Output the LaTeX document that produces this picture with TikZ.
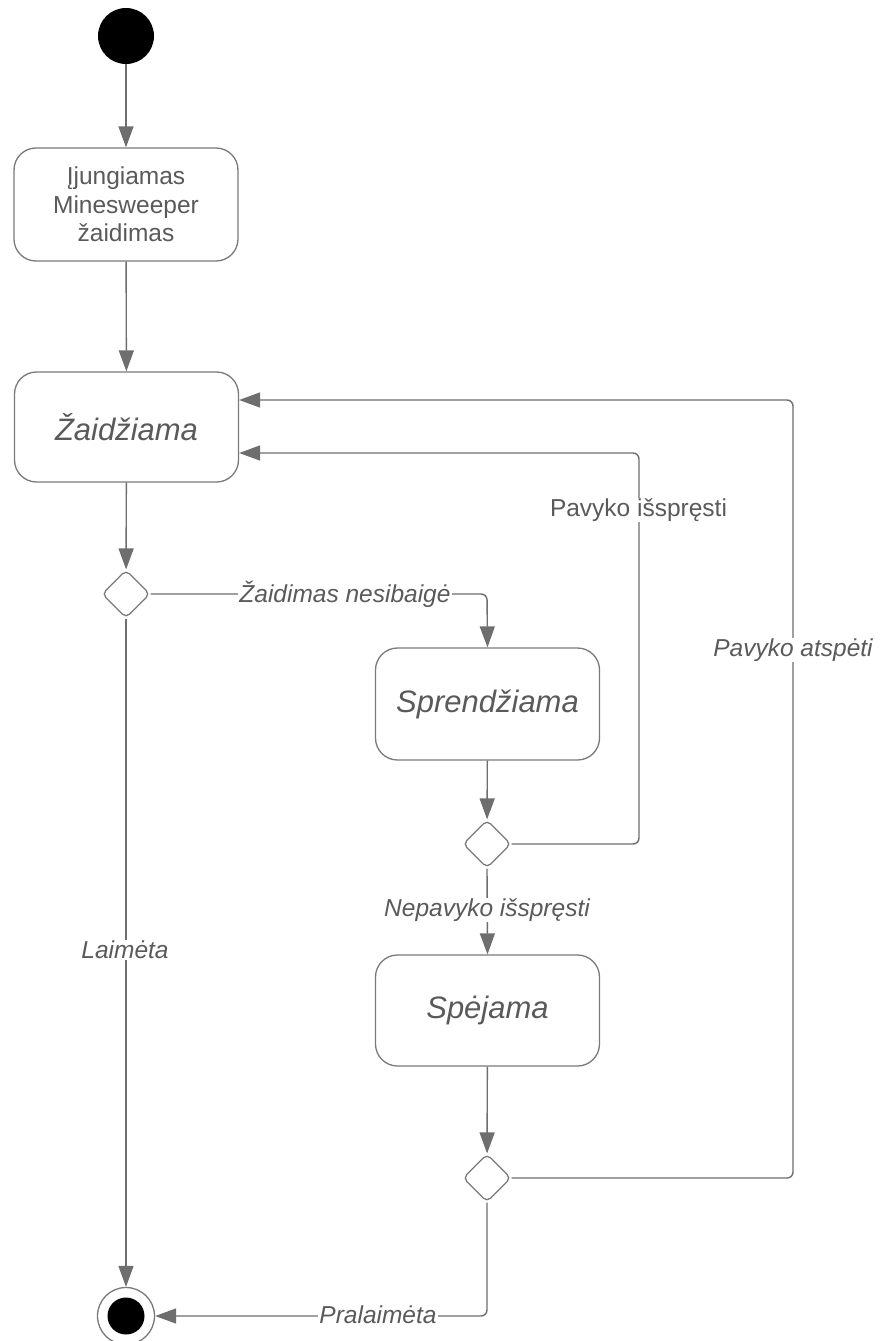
\documentclass[tikz,border=0pt]{standalone}
\usepackage{fontspec}
\setmainfont{Liberation Sans}
\usetikzlibrary{shapes.geometric,arrows.meta}
\definecolor{linegray}{HTML}{6E6E6E}
\definecolor{boxgray}{HTML}{7A7A7A}
\definecolor{txtgray}{HTML}{5A5A5A}
\tikzset{
  statebox/.style={draw=boxgray, line width=1.3pt, rounded corners=22pt, fill=white,
    minimum width=224pt, minimum height=111pt, text=txtgray, align=center, inner sep=0pt},
  bigtitle/.style={font=\fontsize{31}{36}\selectfont\itshape},
  choice/.style={diamond, draw=boxgray, line width=1.3pt, rounded corners=5pt, fill=white,
    minimum width=48pt, minimum height=48pt, inner sep=0pt},
  flow/.style={draw=linegray, line width=1.4pt, rounded corners=6pt,
    -{Triangle[length=21pt,width=15pt]}},
  lbl/.style={fill=white, text=txtgray, inner sep=1pt, font=\fontsize{24.5}{28}\selectfont\itshape},
  lblup/.style={fill=white, text=txtgray, inner sep=1pt, font=\fontsize{24.5}{28}\selectfont},
}
\begin{document}
\begin{tikzpicture}[x=1pt,y=-1pt]
\useasboundingbox[fill=white] (0,0) rectangle (879,1341);

\node[circle, fill=black, minimum size=56pt, inner sep=0pt] (start) at (126,36) {};
\node[statebox, minimum height=113pt, font=\fontsize{24.5}{28.5}\selectfont] (s1) at (126,204.5)
  {Įjungiamas\\Minesweeper\\žaidimas};
\node[statebox, bigtitle, minimum height=110pt] (s2) at (126.5,427) {Žaidžiama};
\node[choice] (d1) at (126,594) {};
\node[statebox, bigtitle, minimum height=112pt] (s3) at (487.5,704) {Sprendžiama};
\node[choice] (d2) at (487,844) {};
\node[statebox, bigtitle] (s4) at (487.5,1010.5) {Spėjama};
\node[choice] (d3) at (487,1178) {};
\node[circle, draw=boxgray, line width=1.3pt, fill=white, minimum size=57pt, inner sep=0pt] (end) at (126,1316) {};
\node[circle, fill=black, minimum size=37pt, inner sep=0pt] (endin) at (end.center) {};

\coordinate (c1) at (487,594);
\coordinate (c2a) at (639,844);
\coordinate (c2b) at (639,453);
\coordinate (c3a) at (793,1178);
\coordinate (c3b) at (793,400);
\coordinate (c4) at (487,1316);

\draw[flow] (start) -- (s1);
\draw[flow] (s1) -- (s2);
\draw[flow] (s2) -- (d1);
\draw[flow] (d1.east) -- (c1) -- (s3.north);
\draw[flow] (s3) -- (d2);
\draw[flow] (d2.south) -- (s4.north);
\draw[flow] (s4) -- (d3);
\draw[flow] (d2.east) -- (c2a) -- (c2b) -- (s2.east |- c2b);
\draw[flow] (d3.east) -- (c3a) -- (c3b) -- (s2.east |- c3b);
\draw[flow] (d3.south) -- (c4) -- (end.east);
\draw[flow] (d1.south) -- (end.north);

\node[lbl] (l1) at (345,594) {Žaidimas nesibaigė};
\node[lblup] (l2) at (638.5,510) {Pavyko išspręsti};
\node[lbl] (l3) at (487,910) {Nepavyko išspręsti};
\node[lbl] (l4) at (793,650) {Pavyko atspėti};
\node[lbl] (l5) at (125,950) {Laimėta};
\node[lbl] (l6) at (378,1315) {Pralaimėta};
\end{tikzpicture}
\end{document}
